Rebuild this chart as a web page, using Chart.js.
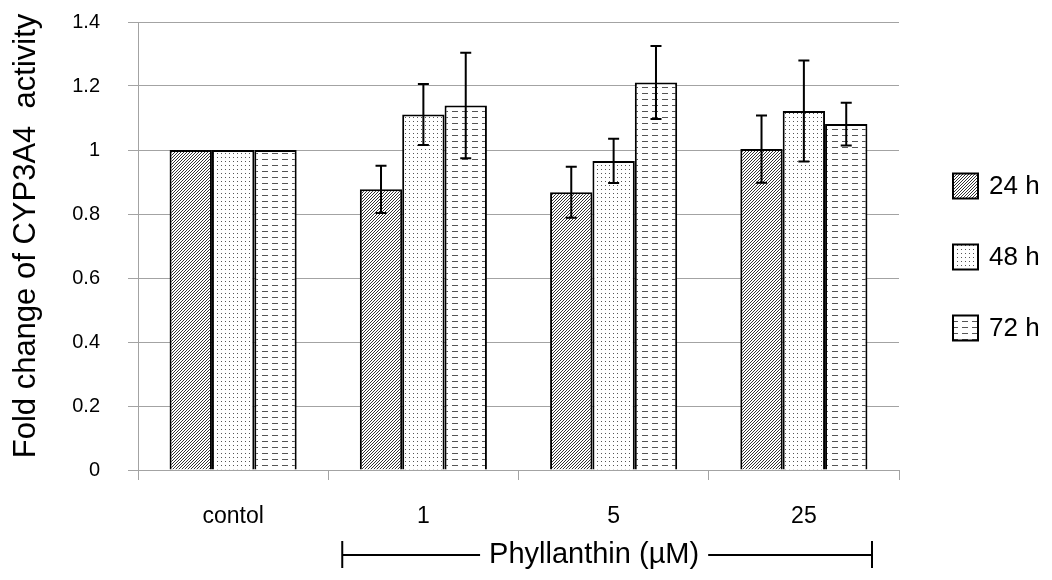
<!DOCTYPE html>
<html>
<head>
<meta charset="utf-8">
<script src="https://cdn.jsdelivr.net/npm/chart.js@4"></script>
<style>
  html, body { margin: 0; padding: 0; background: #fff; }
</style>
</head>
<body>
<canvas id="chart" width="1052" height="580"></canvas>
<script>
// Data
const categories = ['contol', '1', '5', '25'];
const seriesLabels = ['24 h', '48 h', '72 h'];
const values24 = [1, 0.877, 0.868, 1.003];
const values48 = [1, 1.111, 0.966, 1.122];
const values72 = [1, 1.139, 1.211, 1.081];
const errors24 = [0, 0.074, 0.080, 0.105];
const errors48 = [0, 0.095, 0.069, 0.158];
const errors72 = [0, 0.165, 0.114, 0.067];
const yMin = 0;
const yMax = 1.4;
const yStep = 0.2;
const yTitle = 'Fold change of CYP3A4  activity';
const groupTitle = 'Phyllanthin (\u00b5M)';

const FONT = '"Liberation Sans", Arial, sans-serif';
const GRID = '#a3a3a3';

// Fill patterns (hatch, dots, dashes)
const makePattern = (w, h, draw) => {
    const c = document.createElement('canvas');
    c.width = w;
    c.height = h;
    const g = c.getContext('2d');
    g.fillStyle = '#fff';
    g.fillRect(0, 0, w, h);
    draw(g);
    return document.getElementById('chart').getContext('2d').createPattern(c, 'repeat');
};

const hatch = makePattern(3, 3, (g) => {
    g.strokeStyle = '#333';
    g.lineWidth = 1;
    g.beginPath();
    g.moveTo(-1, 4); g.lineTo(4, -1);
    g.moveTo(-1, 1); g.lineTo(1, -1);
    g.moveTo(2, 4); g.lineTo(4, 2);
    g.stroke();
});

const dots = makePattern(4, 4, (g) => {
    g.fillStyle = '#555';
    g.fillRect(1, 1, 1, 1);
});

const dashes = makePattern(10, 6, (g) => {
    g.fillStyle = '#555';
    g.fillRect(2, 3, 6, 1);
});

const patterns = [hatch, dots, dashes];
const seriesValues = [values24, values48, values72];
const seriesErrors = [errors24, errors48, errors72];

// Error bars drawn on top of the bars
const errorBarPlugin = {
    id: 'errorBars',
    afterDatasetsDraw(chart) {
        const { ctx } = chart;
        const yScale = chart.scales.y;
        chart.data.datasets.forEach((ds, i) => {
            const meta = chart.getDatasetMeta(i);
            meta.data.forEach((bar, j) => {
                const err = ds.errors[j];
                if (!err) return;
                const v = ds.data[j];
                const yTop = yScale.getPixelForValue(v + err);
                const yBot = yScale.getPixelForValue(v - err);
                ctx.save();
                ctx.strokeStyle = '#000';
                ctx.lineWidth = 2;
                ctx.beginPath();
                ctx.moveTo(bar.x, yTop); ctx.lineTo(bar.x, yBot);
                ctx.moveTo(bar.x - 5.5, yTop); ctx.lineTo(bar.x + 5.5, yTop);
                ctx.moveTo(bar.x - 5.5, yBot); ctx.lineTo(bar.x + 5.5, yBot);
                ctx.stroke();
                ctx.restore();
            });
        });
    }
};

// Titles, legend and the Phyllanthin bracket
const decorPlugin = {
    id: 'decor',
    afterDraw(chart) {
        const { ctx, chartArea } = chart;
        const xScale = chart.scales.x;
        ctx.save();
        ctx.fillStyle = '#000';

        // y axis title
        ctx.save();
        ctx.translate(chartArea.left - 112, (chartArea.top + chartArea.bottom) / 2 - 10);
        ctx.rotate(-Math.PI / 2);
        ctx.font = '31px ' + FONT;
        ctx.textAlign = 'center';
        ctx.textBaseline = 'middle';
        ctx.fillText(yTitle, 0, 0);
        ctx.restore();

        // legend on the right
        chart.data.datasets.forEach((ds, i) => {
            const cy = chartArea.top + 164 + i * 71;
            const bx = chartArea.right + 54;
            ctx.fillStyle = ds.backgroundColor;
            ctx.fillRect(bx, cy - 12.5, 25, 25);
            ctx.strokeStyle = '#000';
            ctx.lineWidth = 2;
            ctx.strokeRect(bx, cy - 12.5, 25, 25);
            ctx.fillStyle = '#000';
            ctx.font = '26px ' + FONT;
            ctx.textAlign = 'left';
            ctx.textBaseline = 'middle';
            ctx.fillText(ds.label, bx + 36, cy + 1);
        });

        // bracket under the Phyllanthin doses
        const catW = (chartArea.right - chartArea.left) / categories.length;
        const left = xScale.getPixelForValue(1) - catW / 2 + 14;
        const right = chartArea.right - 27;
        const y = chartArea.bottom + 85;
        ctx.font = '29px ' + FONT;
        ctx.textAlign = 'center';
        ctx.textBaseline = 'middle';
        const tw = ctx.measureText(groupTitle).width;
        const tx = (left + right) / 2 - 13;
        ctx.fillText(groupTitle, tx, y);
        ctx.strokeStyle = '#000';
        ctx.lineWidth = 2;
        ctx.beginPath();
        ctx.moveTo(left, y); ctx.lineTo(tx - tw / 2 - 9, y);
        ctx.moveTo(tx + tw / 2 + 9, y); ctx.lineTo(right, y);
        ctx.moveTo(left, y - 14); ctx.lineTo(left, y + 13);
        ctx.moveTo(right, y - 14); ctx.lineTo(right, y + 13);
        ctx.stroke();

        ctx.restore();
    }
};

new Chart(document.getElementById('chart'), {
    type: 'bar',
    data: {
        labels: categories,
        datasets: seriesLabels.map((label, i) => ({
            label,
            data: seriesValues[i],
            errors: seriesErrors[i],
            backgroundColor: patterns[i],
            borderColor: '#000',
            borderWidth: 2,
            categoryPercentage: 0.668,
            barPercentage: 1,
        })),
    },
    options: {
        responsive: false,
        animation: false,
        devicePixelRatio: 1,
        layout: { padding: { top: 22, right: 153, left: 0, bottom: 0 } },
        plugins: {
            legend: { display: false },
            tooltip: { enabled: false },
        },
        scales: {
            x: {
                offset: true,
                grid: {
                    offset: true,
                    drawOnChartArea: false,
                    drawTicks: true,
                    tickLength: 10,
                    color: GRID,
                },
                border: { color: GRID, width: 1 },
                ticks: {
                    color: '#000',
                    font: { size: 23, family: FONT },
                    padding: 23,
                    maxRotation: 0,
                },
                afterFit: (scale) => { scale.height = 110; },
            },
            y: {
                min: yMin,
                max: yMax,
                grid: { color: GRID, tickLength: 10, drawTicks: true },
                border: { color: GRID, width: 1 },
                ticks: {
                    stepSize: yStep,
                    color: '#000',
                    font: { size: 20, family: FONT },
                    padding: 28,
                    callback: (v) => String(Math.round(v * 10) / 10),
                },
                afterFit: (scale) => {
                    scale.width = 138;
                    scale.paddingTop = 0;
                    scale.paddingBottom = 0;
                },
            },
        },
    },
    plugins: [errorBarPlugin, decorPlugin],
});
</script>
</body>
</html>
